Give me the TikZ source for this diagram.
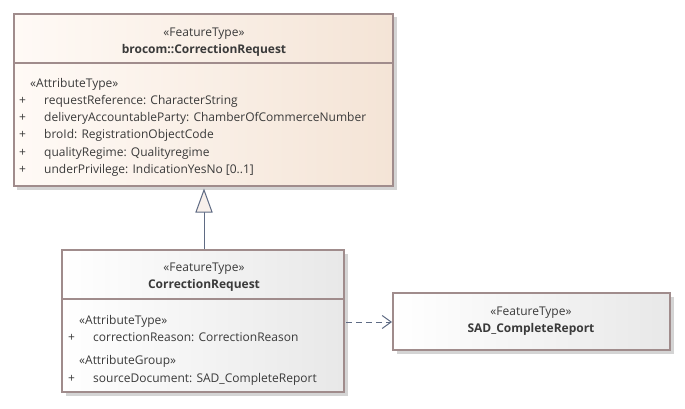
\documentclass[tikz,border=0pt]{standalone}
\usepackage{fontspec}
\setmainfont{Open Sans}
\usetikzlibrary{arrows.meta}
\definecolor{bord}{HTML}{A08C8C}
\definecolor{conn}{HTML}{5F6B84}
\definecolor{shad}{HTML}{D4D4D4}
\definecolor{tanA}{HTML}{FFFAF6}
\definecolor{tanB}{HTML}{F4E4D6}
\definecolor{grA}{HTML}{FFFFFF}
\definecolor{grB}{HTML}{E8E8E8}
\definecolor{trif}{HTML}{F8F0EB}
\definecolor{txtc}{HTML}{3A3A3A}
\tikzset{
  cls/.style={draw=bord, line width=2.4pt},
  shadowbox/.style={fill=shad, draw=none},
  txt/.style={inner sep=0pt, anchor=base, text=txtc, font=\fontsize{12}{14}\selectfont},
  ltxt/.style={txt, anchor=base west},
  btxt/.style={txt, font=\fontsize{12}{14}\selectfont\bfseries},
  conline/.style={draw=conn, line width=1pt},
}
\begin{document}
\begin{tikzpicture}[x=1pt,y=-1pt]
\useasboundingbox (0,0) rectangle (685,409);
% shadows
\fill[shadowbox] (17,17) rectangle (397,190);
\fill[shadowbox] (66,254) rectangle (348,396);
\fill[shadowbox] (397,297) rectangle (674,354);
% top box
\shade[left color=tanA, right color=tanB] (14,14) rectangle (393,186);
\draw[cls] (14,14) rectangle (393,186);
\draw[cls] (14,63) -- (393,63);
\node[txt] (t1) at (204,37) {«FeatureType»};
\node[btxt] (t2) at (204,54) {brocom::CorrectionRequest};
\node[ltxt] (ta) at (30,88) {«AttributeType»};
\foreach \y/\t [count=\i] in {105/requestReference: CharacterString,122/deliveryAccountableParty: ChamberOfCommerceNumber,139/broId: RegistrationObjectCode,156/qualityRegime: Qualityregime,173/underPrivilege: IndicationYesNo [0..1]}{
  \node[ltxt] (tp\i) at (19,\y) {+};
  \node[ltxt] (tx\i) at (44,\y) {\t};
}
% lower box
\shade[left color=grA, right color=grB] (62,250) rectangle (344,392);
\draw[cls] (62,250) rectangle (344,392);
\draw[cls] (62,299) -- (344,299);
\node[txt] (c1) at (204,271) {«FeatureType»};
\node[btxt] (c2) at (204,288) {CorrectionRequest};
\node[ltxt] (ca) at (79,324) {«AttributeType»};
\node[ltxt] (cp1) at (68,341) {+};
\node[ltxt] (cx1) at (93,341) {correctionReason: CorrectionReason};
\node[ltxt] (cb) at (79,364) {«AttributeGroup»};
\node[ltxt] (cp2) at (68,382) {+};
\node[ltxt] (cx2) at (93,382) {sourceDocument: SAD\_CompleteReport};
% SAD box
\shade[left color=grA, right color=grB] (393,293) rectangle (670,350);
\draw[cls] (393,293) rectangle (670,350);
\node[txt] (s1) at (531,315) {«FeatureType»};
\node[btxt] (s2) at (531,332) {SAD\_CompleteReport};
% generalization
\coordinate (apex) at (204,190);
\coordinate (tribase) at (204,212);
\coordinate (lowtop) at (204,249);
\draw[conline] (lowtop) -- (tribase);
\draw[conline, fill=trif, line join=miter] (196,212) -- (apex) -- (212,212) -- cycle;
% dependency
\coordinate (depA) at (346,322);
\coordinate (depB) at (392,322);
\draw[conline, dash pattern=on 6pt off 4pt, -{Straight Barb[length=9pt,width=13pt,line width=1pt]}] (depA) -- (depB);
\end{tikzpicture}
\end{document}
